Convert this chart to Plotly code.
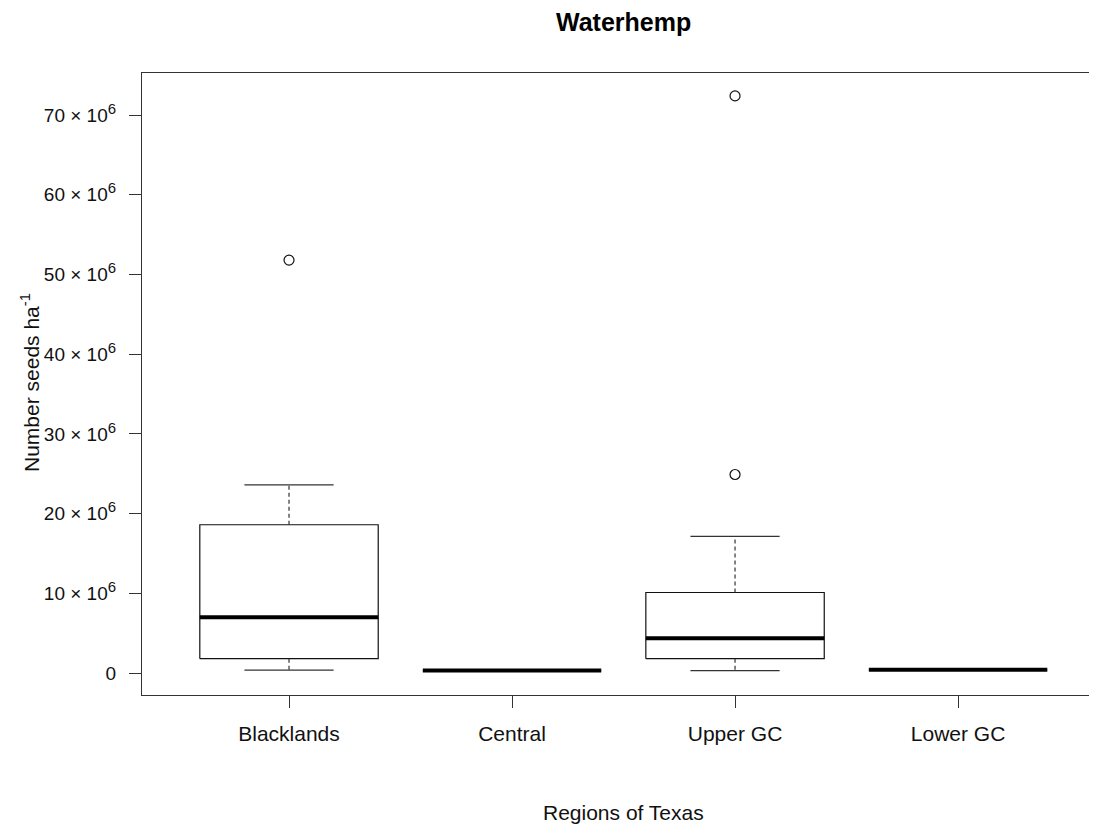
import plotly.graph_objects as go

categories = ["Blacklands", "Central", "Upper GC", "Lower GC"]
lower_whisker = [0.35e6, 0.3e6, 0.3e6, 0.4e6]
q1 = [1.8e6, 0.3e6, 1.8e6, 0.4e6]
median = [7.0e6, 0.3e6, 4.35e6, 0.4e6]
q3 = [18.6e6, 0.3e6, 10.1e6, 0.4e6]
upper_whisker = [23.6e6, 0.3e6, 17.15e6, 0.4e6]
outlier_cat = ["Blacklands", "Upper GC", "Upper GC"]
outlier_val = [51.8e6, 24.9e6, 72.4e6]

ytick_vals = [0, 10e6, 20e6, 30e6, 40e6, 50e6, 60e6, 70e6]
ytick_text = ["0"] + [
    f"{int(v/1e6)} \u00d7 10<sup><span style='font-size:15px'>6</span></sup>"
    for v in ytick_vals[1:]
]

HALF_BOX = 0.4
HALF_CAP = 0.2
LINE = "#111111"

fig = go.Figure()
for i, cat in enumerate(categories):
    xc = i + 1
    # box outline
    fig.add_trace(go.Scatter(
        x=[xc - HALF_BOX, xc + HALF_BOX, xc + HALF_BOX, xc - HALF_BOX, xc - HALF_BOX],
        y=[q1[i], q1[i], q3[i], q3[i], q1[i]],
        mode="lines", line=dict(color=LINE, width=1.2), hoverinfo="skip", showlegend=False))
    # whiskers (dashed)
    fig.add_trace(go.Scatter(
        x=[xc, xc, None, xc, xc],
        y=[q3[i], upper_whisker[i], None, q1[i], lower_whisker[i]],
        mode="lines", line=dict(color="#333333", width=1.2, dash="4px,3px"),
        hoverinfo="skip", showlegend=False))
    # caps
    fig.add_trace(go.Scatter(
        x=[xc - HALF_CAP, xc + HALF_CAP, None, xc - HALF_CAP, xc + HALF_CAP],
        y=[upper_whisker[i], upper_whisker[i], None, lower_whisker[i], lower_whisker[i]],
        mode="lines", line=dict(color="#333333", width=1.2), hoverinfo="skip", showlegend=False))
    # median
    fig.add_trace(go.Scatter(
        x=[xc - HALF_BOX, xc + HALF_BOX], y=[median[i], median[i]],
        mode="lines", line=dict(color="#000000", width=4), hoverinfo="skip", showlegend=False))

fig.add_trace(go.Scatter(
    x=[categories.index(c) + 1 for c in outlier_cat], y=outlier_val,
    mode="markers",
    marker=dict(symbol="circle-open", size=10, color="#111111", line=dict(width=1.2)),
    showlegend=False))

FONT = "Liberation Sans, Arial, sans-serif"

fig.update_layout(
    width=1089, height=819,
    margin=dict(l=134, r=0, t=65, b=132),
    paper_bgcolor="white", plot_bgcolor="white",
    font=dict(family=FONT, size=21, color="#111111"),
    showlegend=False,
    xaxis=dict(
        range=[0.3408, 4.623],
        tickvals=[1, 2, 3, 4], ticktext=categories,
        ticks="outside", ticklen=12, tickwidth=1, tickcolor="#333333",
        ticklabelstandoff=8,
        showline=True, linecolor="#333333", linewidth=1.2, mirror=True,
        showgrid=False, zeroline=False,
        tickfont=dict(size=21),
    ),
    yaxis=dict(
        range=[-2.76e6, 75.27e6],
        tickvals=ytick_vals, ticktext=ytick_text,
        ticks="outside", ticklen=12, tickwidth=1, tickcolor="#333333",
        ticklabelstandoff=9,
        showline=True, linecolor="#333333", linewidth=1.2, mirror=False,
        showgrid=False, zeroline=False,
        tickfont=dict(size=19),
    ),
    annotations=[
        dict(text="<b>Waterhemp</b>", xref="paper", yref="paper",
             x=(623 - 142) / 955, y=1 + (73 - 22) / 622,
             xanchor="center", yanchor="middle", showarrow=False,
             font=dict(size=25, family=FONT, color="#000000")),
        dict(text="Regions of Texas", xref="paper", yref="paper",
             x=(623 - 142) / 955, y=-(812 - 695) / 622,
             xanchor="center", yanchor="middle", showarrow=False,
             font=dict(size=21, family=FONT)),
        dict(text="Number seeds ha<sup>-1</sup>", xref="paper", yref="paper",
             x=-(142 - 30) / 955, y=(695 - 383) / 622, textangle=-90,
             xanchor="center", yanchor="middle", showarrow=False,
             font=dict(size=21, family=FONT)),
    ],
)

fig.write_html("out.html")
